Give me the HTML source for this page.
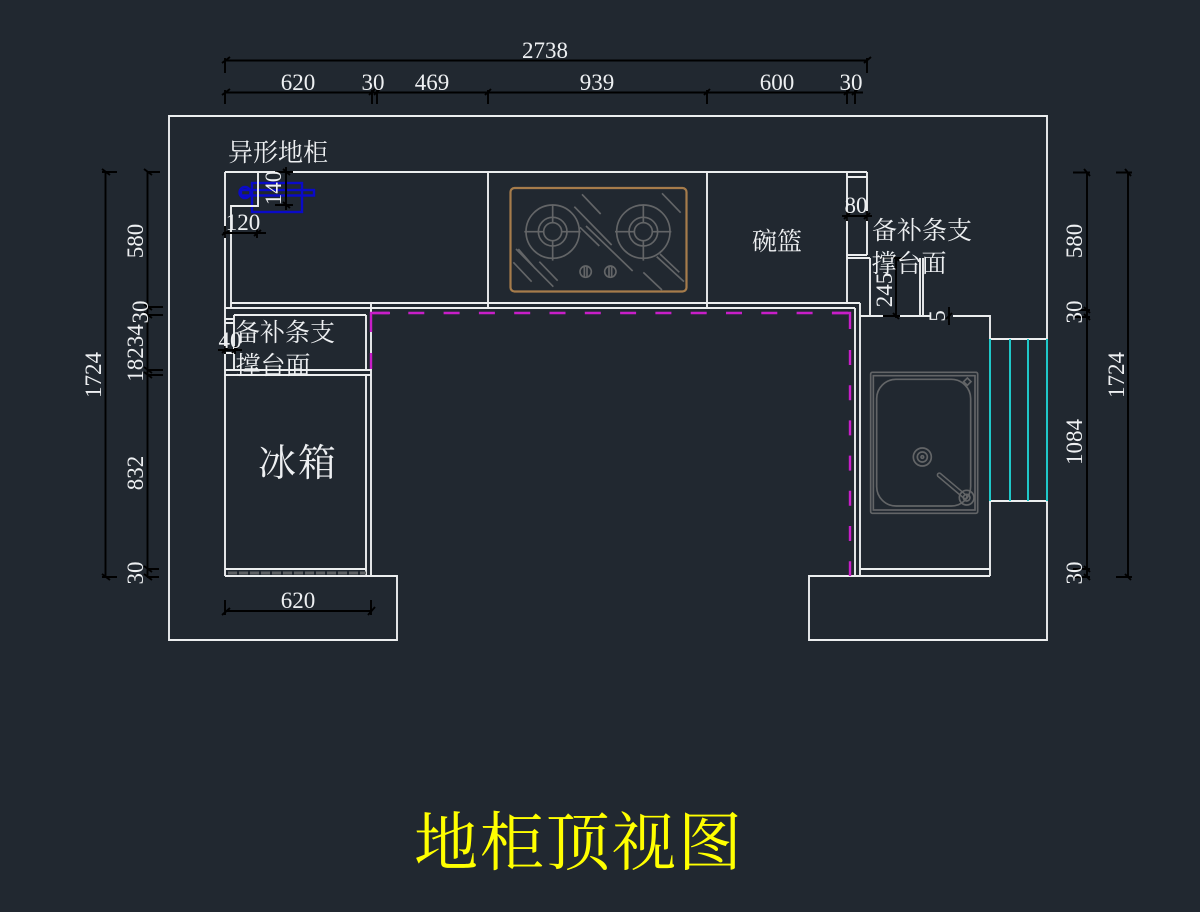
<!DOCTYPE html>
<html><head><meta charset="utf-8"><style>
html,body{margin:0;padding:0;background:#212830}
svg{display:block}
text{font-family:"Liberation Serif","Noto Serif CJK SC",serif;fill:#eef0f2;text-anchor:middle}
.n{font-size:23px}
.c{font-size:25px}
</style></head><body>
<svg width="1200" height="912" viewBox="0 0 1200 912" xmlns="http://www.w3.org/2000/svg">
<rect width="1200" height="912" fill="#212830"/>

<!-- blue symbol -->
<g fill="none" stroke="#0a0ac8" stroke-width="2.4">
<rect x="252" y="183" width="50" height="29"/>
<rect x="241" y="190" width="73" height="5.5"/>
<circle cx="245" cy="192.500" r="5.500"/>
</g>

<!-- walls and cabinets -->
<g fill="none" stroke="#eceeef" stroke-width="1.9">
<path d="M225 576H397V640H169V116H1047V640H809V576H990"/>
<path d="M1047 339H990V316H953M930 316H860M990 339V576M1047 501H990"/>
<path d="M225 172V576M225 172H867M258 172V206H231V308M231 303H860M225 308H855"/>
<path d="M488 172V308M707 172V308M847 172V303M867 172V255M847 177H867M847 255H867M847 258H870M870 258V316M920 258V316M923 258V316"/>
<path d="M855 308V576M860 303V576M860 569H990"/>
<path d="M371 303V576M366 315V370M366 375V576M234 315H366M234 315V370M225 370H371M225 375H371M225 569H366M225 319H234M225 323H234M225 353H234"/>
</g>
<path d="M228 573H366" stroke="#606366" stroke-width="3" stroke-dasharray="9 2" fill="none"/>
<path d="M990 339V501M1010 339V501M1028 339V501M1047 339V501" stroke="#1fc8c8" stroke-width="2" fill="none"/>

<!-- magenta dashed -->
<g fill="none" stroke="#c81ec8" stroke-width="2.4">
<path d="M373 313H850" stroke-dasharray="16 19.3" stroke-dashoffset="0"/>
<path d="M390 313H371V332"/>
<path d="M371 353V369"/>
<path d="M832 313H850V329"/>
<path d="M850 350V576" stroke-dasharray="15 20.2" stroke-dashoffset="0"/>
</g>

<!-- hob -->
<rect x="510.500" y="188" width="176" height="103.500" rx="4" fill="none" stroke="#a67c4b" stroke-width="2.200"/>
<g transform="translate(480 165) scale(.33333)" fill="none" stroke="#636567" stroke-width="5">
<g><circle cx="218" cy="200" r="80"/><circle cx="218" cy="200" r="43"/><circle cx="218" cy="200" r="27"/><path d="M218 118V172M218 228V287M133 200H190M246 200H302"/></g>
<g transform="translate(272 0)"><circle cx="218" cy="200" r="80"/><circle cx="218" cy="200" r="43"/><circle cx="218" cy="200" r="27"/><path d="M218 118V172M218 228V287M133 200H190M246 200H302"/></g>
<circle cx="317" cy="320" r="17"/><circle cx="391" cy="320" r="17"/><path d="M313 305V335M321 305V335M387 305V335M395 305V335"/>
<path d="M306 88L362 147M546 85L602 143M283 125L395 240M300 187L358 243M318 183L458 318M108 252L220 365M115 252L165 310M100 292L155 350M178 290L233 347M490 322L546 375M530 275L612 350M540 267L598 322"/>
</g>

<!-- sink -->
<g transform="translate(840 360) scale(.33333)" fill="none" stroke="#636567" stroke-width="5">
<rect x="92" y="37" width="321" height="423" rx="5"/>
<rect x="100" y="47" width="305" height="403"/>
<rect x="110" y="58" width="282" height="380" rx="58"/>
<circle cx="247" cy="291" r="27"/><circle cx="247" cy="291" r="15"/><circle cx="247" cy="291" r="4"/>
<path d="M298 345L375 410" stroke-width="16" stroke-linecap="round"/>
<path d="M298 345L375 410" stroke="#212830" stroke-width="7" stroke-linecap="round"/>
<circle cx="380" cy="413" r="22"/><circle cx="380" cy="413" r="10"/>
<path d="M382 54L393 65L382 76L371 65Z"/>
</g>

<!-- dimension lines -->
<g fill="none" stroke="#000" stroke-width="1.9">
<path d="M225 60.500H868M225 58V73M222 63L230 57M867 58V73M864 63L871 57"/>
<path d="M225 92.500H863M225 90V104M222 95L230 89M372 90V104M369 95L375 89M377 90V104M374 95L380 89M488 90V104M485 95L491 89M707 90V104M704 95L710 89M847 90V104M844 95L850 89M855 90V104M852 95L858 89"/>
<path d="M225 611H371M225 600V615M222 615L230 608M371 600V615M368 615L375 607"/>
<path d="M105.500 172V577M102 172H117M102 169L110 175M102 577H117M102 574L110 580"/>
<path d="M147.500 172V577M147 172H160M144 169L152 175M147 307H163M144 304L152 310M147 315H163M144 312L152 318M147 370H163M144 367L152 373M147 375H163M144 372L152 378M147 569H159M144 566L152 572M147 577H159M144 574L152 580"/>
<path d="M1087 172V577M1073 172.500H1090M1084 169L1090 176M1073 310H1090M1084 307L1090 313M1073 317H1090M1084 314L1090 320M1073 569H1090M1084 566L1090 572M1073 577H1090M1084 574L1090 580"/>
<path d="M1128 172V577M1116 172.500H1132M1125 169L1131 176M1116 577H1132M1125 574L1131 580"/>
<path d="M286 167V210M275 172H293M283 169L290 175M275 205H293M283 202L290 208"/>
<path d="M223 233H266M225 226V238M222 235L229 231M257 228V238M254 236L261 230"/>
<path d="M218 350H242M225 346V354M222 353L228 347M235 346V354M232 353L238 347"/>
<path d="M842 216H872M847 211V221M844 219L850 213M867 211V221M864 219L870 213"/>
<path d="M896 258V318M883 316H900M893 313L899 319M880 258H904M893 255L899 261"/>
<path d="M949 307V325M946 319L952 313"/>
</g>

<!-- dimension text -->
<g>
<text class="n" x="545" y="58">2738</text>
<text class="n" x="298" y="90">620</text>
<text class="n" x="373" y="90">30</text>
<text class="n" x="432" y="90">469</text>
<text class="n" x="597" y="90">939</text>
<text class="n" x="777" y="90">600</text>
<text class="n" x="851" y="90">30</text>
<text class="n" x="298" y="608">620</text>
<text class="n" x="243" y="230">120</text>
<text class="n" x="230" y="348">40</text>
<text class="n" x="856" y="213">80</text>
<text class="n" transform="translate(281 188) rotate(-90)">140</text>
<text class="n" transform="translate(892 290) rotate(-90)">245</text>
<text class="n" transform="translate(945 316) rotate(-90)">5</text>
<text class="n" transform="translate(101 375) rotate(-90)">1724</text>
<text class="n" transform="translate(143 241) rotate(-90)">580</text>
<text class="n" transform="translate(148 312) rotate(-90)">30</text>
<text class="n" transform="translate(143 353) rotate(-90)">18234</text>
<text class="n" transform="translate(143 473) rotate(-90)">832</text>
<text class="n" transform="translate(143 573) rotate(-90)">30</text>
<text class="n" transform="translate(1082 241) rotate(-90)">580</text>
<text class="n" transform="translate(1082 312) rotate(-90)">30</text>
<text class="n" transform="translate(1082 442) rotate(-90)">1084</text>
<text class="n" transform="translate(1082 573) rotate(-90)">30</text>
<text class="n" transform="translate(1124 375) rotate(-90)">1724</text>
</g>

<!-- labels -->
<text class="c" x="278" y="161">异形地柜</text>
<text class="c" x="777" y="250">碗篮</text>
<text class="c" x="922" y="239">备补条支</text>
<text class="c" x="909" y="272">撑台面</text>
<text class="c" x="285" y="341">备补条支</text>
<text class="c" x="273" y="374">撑台面</text>
<text x="298" y="476" style="font-size:38px;letter-spacing:2px">冰箱</text>
<text x="579" y="865" style="font-size:64px;letter-spacing:2px;fill:#ffff00">地柜顶视图</text>
</svg>
</body></html>
